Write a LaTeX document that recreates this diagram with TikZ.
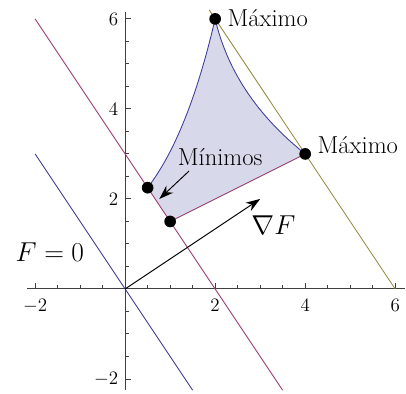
\documentclass[tikz,border=0pt]{standalone}
\usetikzlibrary{arrows.meta}
\definecolor{mblue}{rgb}{0.24,0.24,0.6}
\definecolor{mred}{rgb}{0.6,0.24,0.443}
\definecolor{molive}{rgb}{0.6,0.547,0.24}
\begin{document}
\begin{tikzpicture}[x=1cm,y=1cm,
  axisline/.style={draw=black!75, line width=0.6pt},
  ticklab/.style={font=\fontsize{12}{14}\selectfont, inner sep=0pt},
  lbl/.style={font=\fontsize{15.5}{18}\selectfont, inner sep=0pt},
  mlbl/.style={font=\fontsize{18}{21}\selectfont, inner sep=0pt},
  dot/.style={circle, fill=black, inner sep=0pt, minimum size=0.26cm},
  levelline/.style={line width=0.55pt},
  vec/.style={draw=black, line width=0.6pt, -{Stealth[length=3.2mm,width=2.2mm]}}]
\useasboundingbox (-2.78,-2.33) rectangle (6.24,6.42);
% axes
\draw[axisline] (-2.18,0) -- (6.22,0);
\draw[axisline] (0,-2.25) -- (0,6.16);
\foreach \x in {-2,2,4,6} \draw[axisline] (\x,0) -- (\x,0.13);
\foreach \x in {-1.5,-1,-0.5,0.5,1,1.5,2.5,3,3.5,4.5,5,5.5} \draw[axisline] (\x,0) -- (\x,0.08);
\foreach \y in {-2,2,4,6} \draw[axisline] (0,\y) -- (0.13,\y);
\foreach \y in {-1.5,-1,-0.5,0.5,1,1.5,2.5,3,3.5,4.5,5,5.5} \draw[axisline] (0,\y) -- (0.08,\y);
\foreach \x/\t in {-2/$-2$,2/2,4/4,6/6} \node[ticklab, anchor=north] (xl\x) at (\x,-0.22) {\t};
\foreach \y/\t in {-2/$-2$,2/2,4/4,6/6} \node[ticklab, anchor=east] (yl\y) at (-0.15,\y) {\t};
% region
\coordinate (A) at (0.5,2.25);
\coordinate (B) at (1,1.5);
\coordinate (T) at (2,6);
\coordinate (R) at (4,3);
\fill[mblue, opacity=0.2] (A) .. controls (1.1,3.03) and (1.6,4.28) .. (T)
  .. controls (2.267,4.853) and (2.933,3.853) .. (R) -- (B) -- cycle;
\draw[mblue, levelline] (A) .. controls (1.1,3.03) and (1.6,4.28) .. (T)
  .. controls (2.267,4.853) and (2.933,3.853) .. (R);
\draw[mred, levelline] (R) -- (B);
% level lines
\draw[mblue, levelline] (-2,3) -- (1.5,-2.25);
\draw[mred, levelline] (-2,6) -- (3.5,-2.25);
\draw[molive, levelline] (1.867,6.2) -- (6,0);
% gradient
\coordinate (O) at (0,0);
\coordinate (G) at (3,2);
\draw[vec] (O) -- (G);
\coordinate (m1) at (1.42,2.62);
\coordinate (m2) at (0.76,2.0);
\draw[vec] (m1) -- (m2);
% points
\node[dot] (pA) at (A) {};
\node[dot] (pB) at (B) {};
\node[dot] (pT) at (T) {};
\node[dot] (pR) at (R) {};
% labels
\node[lbl, anchor=base west] (maxT) at (2.27,5.84) {Máximo};
\node[lbl, anchor=base west] (maxR) at (4.27,3.0) {Máximo};
\node[lbl] (minl) at (2.11,2.93) {Mínimos};
\node[mlbl, anchor=base west] (f0) at (-2.44,0.61) {$F=0$};
\node[mlbl, anchor=base west] (gf) at (2.8,1.2) {$\nabla F$};
\end{tikzpicture}
\end{document}
